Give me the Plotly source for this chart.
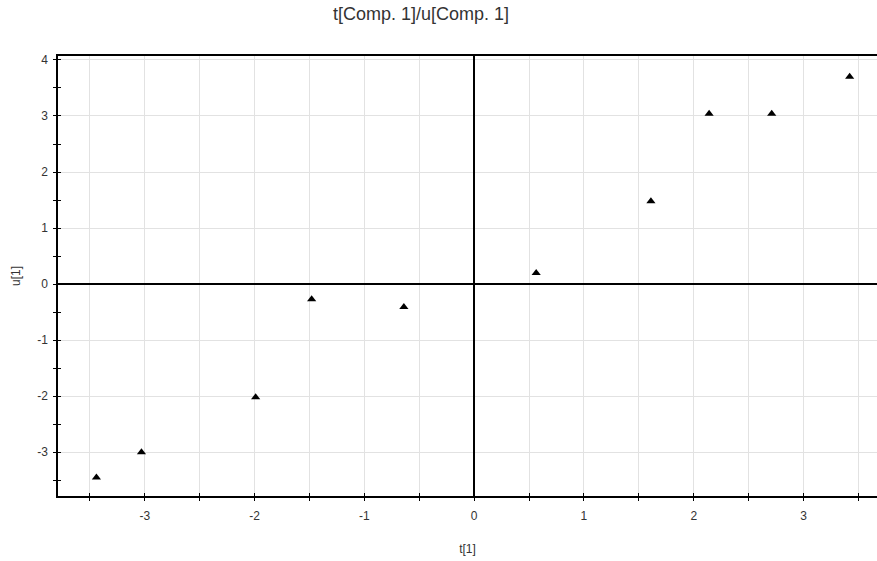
import plotly.graph_objects as go

t_vals = [-3.44, -3.03, -1.99, -1.48, -0.64, 0.565, 1.61, 2.14, 2.71, 3.42]
u_vals = [-3.45, -3.00, -2.02, -0.27, -0.41, 0.20, 1.48, 3.04, 3.04, 3.70]

x_tick_vals = [-3, -2, -1, 0, 1, 2, 3]
x_tick_text = ["-3", "-2", "-1", "0", "1", "2", "3"]
y_tick_vals = [-3, -2, -1, 0, 1, 2, 3, 4]
y_tick_text = ["-3", "-2", "-1", "0", "1", "2", "3", "4"]

title_text = "t[Comp. 1]/u[Comp. 1]"
x_title = "t[1]"
y_title = "u[1]"

x_range = [-3.79, 3.669]
y_range = [-3.78, 4.07]

fig = go.Figure()
fig.add_trace(go.Scatter(
    x=t_vals, y=u_vals, mode="markers",
    marker=dict(symbol="triangle-up", size=8, color="black"),
    showlegend=False, hoverinfo="x+y",
))
# invisible helper trace to activate the overlay axes (for inward tick halves)
fig.add_trace(go.Scatter(x=[None], y=[None], xaxis="x2", yaxis="y2",
                         showlegend=False, hoverinfo="skip"))

font = "Liberation Sans, Arial, sans-serif"
fig.update_layout(
    width=877, height=561,
    margin=dict(l=58, r=0, t=56, b=65, autoexpand=False),
    paper_bgcolor="white", plot_bgcolor="white",
    font=dict(family=font, size=12, color="#333"),
    title=dict(text=title_text, x=421/877, xanchor="center", xref="container",
               y=1-14/561, yanchor="middle", yref="container", automargin=False,
               font=dict(family=font, size=18, color="#333")),
    xaxis2=dict(overlaying="x", matches="x", side="bottom", showgrid=False,
                zeroline=False, showline=False, showticklabels=False,
                tickvals=x_tick_vals, ticks="inside", ticklen=3, tickcolor="black",
                minor=dict(dtick=0.5, tick0=0, ticks="inside", ticklen=3,
                           tickcolor="black", showgrid=False)),
    yaxis2=dict(overlaying="y", matches="y", side="left", showgrid=False,
                zeroline=False, showline=False, showticklabels=False,
                tickvals=y_tick_vals, ticks="inside", ticklen=3, tickcolor="black",
                minor=dict(dtick=0.5, tick0=0, ticks="inside", ticklen=3,
                           tickcolor="black", showgrid=False)),
)
fig.layout.xaxis.update(
    range=x_range, tickvals=x_tick_vals, ticktext=x_tick_text,
    showgrid=True, gridcolor="#e2e2e2", gridwidth=1,
    ticks="outside", ticklen=3, tickcolor="black", tickwidth=1,
    ticklabelstandoff=5,
    minor=dict(dtick=0.5, tick0=0, ticks="outside", ticklen=3, tickcolor="black",
               showgrid=True, gridcolor="#e2e2e2", gridwidth=1),
    showline=True, linecolor="black", linewidth=1.5, mirror=True,
    zeroline=True, zerolinecolor="black", zerolinewidth=1.5,
    title=dict(text=x_title, standoff=22, font=dict(size=12)),
    tickfont=dict(size=12, color="#333"), automargin=False,
)
fig.layout.yaxis.update(
    range=y_range, tickvals=y_tick_vals, ticktext=y_tick_text,
    showgrid=True, gridcolor="#e2e2e2", gridwidth=1,
    ticks="outside", ticklen=3, tickcolor="black", tickwidth=1,
    ticklabelstandoff=3,
    minor=dict(dtick=0.5, tick0=0, ticks="outside", ticklen=3, tickcolor="black",
               showgrid=False),
    showline=True, linecolor="black", linewidth=1.5, mirror=False,
    zeroline=True, zerolinecolor="black", zerolinewidth=1.5,
    title=dict(text=y_title, standoff=14, font=dict(size=12)),
    tickfont=dict(size=12, color="#333"), automargin=False,
)

fig.write_html("out.html", config={"displayModeBar": False},
               post_script="document.body.style.margin='0';")
